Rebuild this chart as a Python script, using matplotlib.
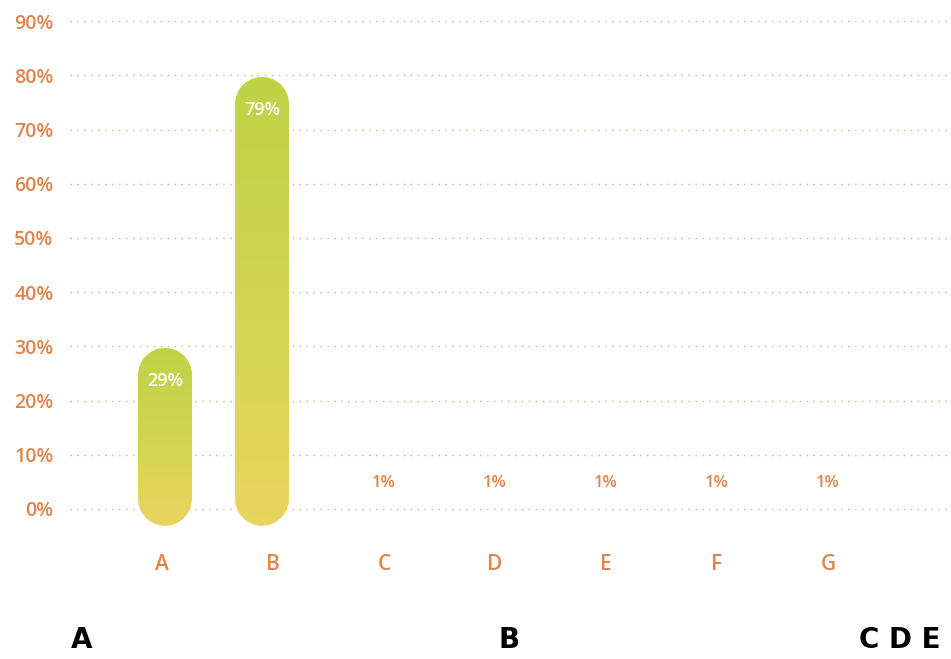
import numpy as np
import matplotlib
matplotlib.use("Agg")
import matplotlib.pyplot as plt
from matplotlib.patches import PathPatch
from matplotlib.path import Path
from matplotlib.colors import LinearSegmentedColormap

categories = ["A", "B", "C", "D", "E", "F", "G"]
values = [29, 79, 1, 1, 1, 1, 1]
yticks = [0, 10, 20, 30, 40, 50, 60, 70, 80, 90]
footer = ["A", "B", "C D E"]

orange = "#E0854C"
grid_col = "#E9A57C"
grad = LinearSegmentedColormap.from_list("g", ["#E9D560", "#BDD344"])
font = "Open Sans"

fig = plt.figure(figsize=(9.51, 6.59), dpi=100)
ax = fig.add_axes([70 / 951, 0.1454, 881 / 951, 0.839])
ax.set_xlim(-0.829, 7.108)
ax.set_ylim(-10, 92)
for s in ax.spines.values():
    s.set_visible(False)

ax.set_yticks(yticks)
ax.set_yticklabels([f"{t}%" for t in yticks])
ax.set_xticks([])
ax.tick_params(length=0, colors=orange, labelsize=14)
ax.tick_params(axis="y", pad=12)
for lab in ax.get_yticklabels():
    lab.set_fontweight("semibold")
    lab.set_family(font)
for i, c in enumerate(categories):
    ax.text(i, -10.3, c, ha="center", va="center", color=orange,
            fontsize=15, fontweight="semibold", family=font, clip_on=False)
ax.grid(axis="y", color=grid_col, linestyle=(0, (1, 4)), linewidth=1)
ax.set_axisbelow(True)


def pill(xc, bot, top, rx, ry):
    t1 = np.linspace(0, np.pi, 40)
    t2 = np.linspace(np.pi, 2 * np.pi, 40)
    up = np.column_stack([xc + rx * np.cos(t1), top - ry + ry * np.sin(t1)])
    dn = np.column_stack([xc + rx * np.cos(t2), bot + ry + ry * np.sin(t2)])
    pts = np.vstack([up, dn, up[:1]])
    return Path(pts, closed=True)


# pill bars (big ones only), bars sit on their own spacing
bar_w = 0.486
rx = bar_w / 2
ry = 27 / 5.42
grad_img = np.linspace(0, 1, 256).reshape(-1, 1)
for i, v in enumerate(values):
    if v < 5:
        ax.text(i, v + 3.7, f"{v}%", ha="center", va="center", color=orange,
                fontsize=12, fontweight="semibold", family=font)
        continue
    xc = i * 0.874 + 0.027
    bot, top = -3.1, v + 0.7
    patch = PathPatch(pill(xc, bot, top, rx, ry), facecolor="none",
                      edgecolor="none", transform=ax.transData)
    ax.add_patch(patch)
    im = ax.imshow(grad_img, cmap=grad, aspect="auto", origin="lower",
                   extent=[xc - rx, xc + rx, bot, top], zorder=2)
    im.set_clip_path(patch)
    ax.text(xc, v - 5.4, f"{v}%", ha="center", va="center", color="white",
            fontsize=13, fontweight="semibold", family=font, zorder=3)

ax.set_xlim(-0.829, 7.108)
ax.set_ylim(-10, 92)

for x, t in zip([82, 509, 900], footer):
    fig.text(x / 951, 1 - 640 / 659, t, ha="center", va="center",
             fontsize=20, fontweight="bold", color="black",
             family=["DejaVu Sans Condensed", "Liberation Sans Narrow", "DejaVu Sans"])

fig.savefig("out.png", dpi=100)
